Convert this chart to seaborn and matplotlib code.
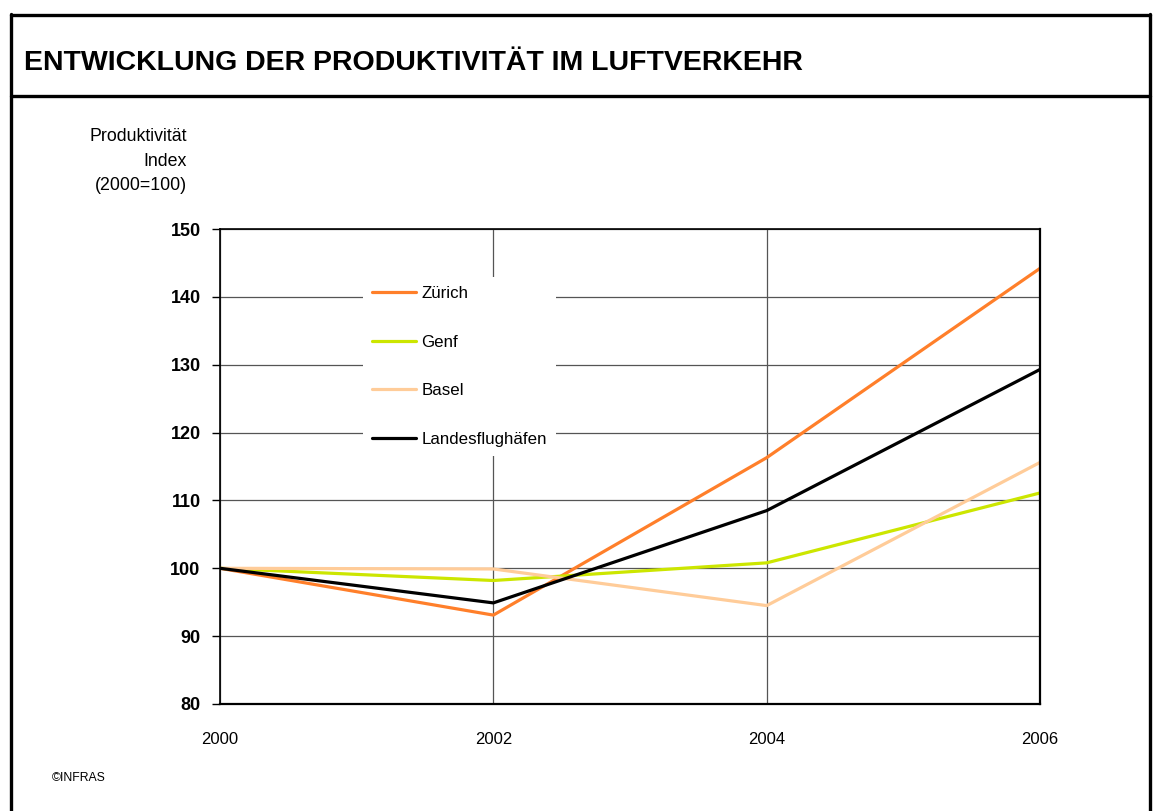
import pandas as pd
import matplotlib.pyplot as plt
import seaborn as sns
from matplotlib.lines import Line2D

# Produktivitaet Luftverkehr, Index 2000=100
years = [2000, 2002, 2004, 2006]
zuerich = [100, 93.1, 116.3, 144.2]
genf = [100, 98.2, 100.8, 111.1]
basel = [100, 99.9, 94.5, 115.6]
landesflughaefen = [100, 94.9, 108.5, 129.3]

series_names = ['Zürich', 'Genf', 'Basel', 'Landesflughäfen']
series_colors = ['#FF7F2A', '#CCE600', '#FFCC99', '#000000']

data = pd.DataFrame({
    'Jahr': years * 4,
    'Index': zuerich + genf + basel + landesflughaefen,
    'Serie': [n for n in series_names for _ in years],
})

sns.set_style('white')
plt.rcParams['font.family'] = ['Liberation Sans', 'DejaVu Sans']
plt.rcParams['text.color'] = 'black'
plt.rcParams['xtick.color'] = 'black'
plt.rcParams['ytick.color'] = 'black'

W, H = 1154, 811
fig = plt.figure(figsize=(W / 100, H / 100), dpi=100)

def fx(px):
    return px / W

def fy(py):
    return 1 - py / H

# outer frame + title separator
lw_frame = 2.4
for xs, ys in [((11, 11), (14, H)), ((1150, 1150), (14, H)),
               ((11, 1150), (15, 15)), ((11, 1150), (96, 96))]:
    fig.add_artist(Line2D([fx(x) for x in xs], [fy(y) for y in ys],
                          color='black', linewidth=lw_frame))

fig.text(fx(24), fy(63), 'ENTWICKLUNG DER PRODUKTIVITÄT IM LUFTVERKEHR',
         fontsize=20.5, fontweight='bold', va='center', ha='left')

fig.text(fx(187), fy(161), 'Produktivität\nIndex\n(2000=100)',
         fontsize=12.8, ha='right', va='center', multialignment='right',
         linespacing=1.6)

fig.text(fx(52), fy(778), '©INFRAS', fontsize=8.8, ha='left', va='center')

ax = fig.add_axes([fx(220), fy(704), fx(1040) - fx(220), fy(229) - fy(704)])

sns.lineplot(data=data, x='Jahr', y='Index', hue='Serie',
             palette=dict(zip(series_names, series_colors)),
             hue_order=series_names, linewidth=2.3, ax=ax, legend=False)

ax.set_xlim(2000, 2006)
ax.set_ylim(80, 150)
ax.set_xticks(years)
ax.set_xticklabels([str(y) for y in years], fontsize=12)
ax.set_yticks(range(80, 151, 10))
ax.set_yticklabels([str(v) for v in range(80, 151, 10)], fontsize=13,
                   fontweight='bold')
ax.tick_params(axis='y', length=6, width=1, color='black', pad=8, left=True)
ax.tick_params(axis='x', length=0, pad=20)
ax.set_xlabel('')
ax.set_ylabel('')

ax.grid(True, color='#555555', linewidth=0.9)
ax.set_axisbelow(True)
for s in ax.spines.values():
    s.set_visible(True)
    s.set_color('black')
    s.set_linewidth(1.2)
ax.spines['right'].set_linewidth(1.6)
ax.spines['bottom'].set_linewidth(1.6)

handles = [Line2D([], [], color=c, linewidth=2.3) for c in series_colors]
leg = ax.legend(handles, series_names, loc='upper left',
                bbox_to_anchor=((363 - 220) / 820, (704 - 277) / 475),
                frameon=True, facecolor='white', edgecolor='white',
                framealpha=1, fancybox=False, fontsize=12.2,
                handlelength=2.6, handletextpad=0.3, labelspacing=1.98,
                borderpad=0.55, borderaxespad=0)
leg.get_frame().set_linewidth(0)
leg.set_zorder(5)

plt.savefig('out.png', dpi=100)
